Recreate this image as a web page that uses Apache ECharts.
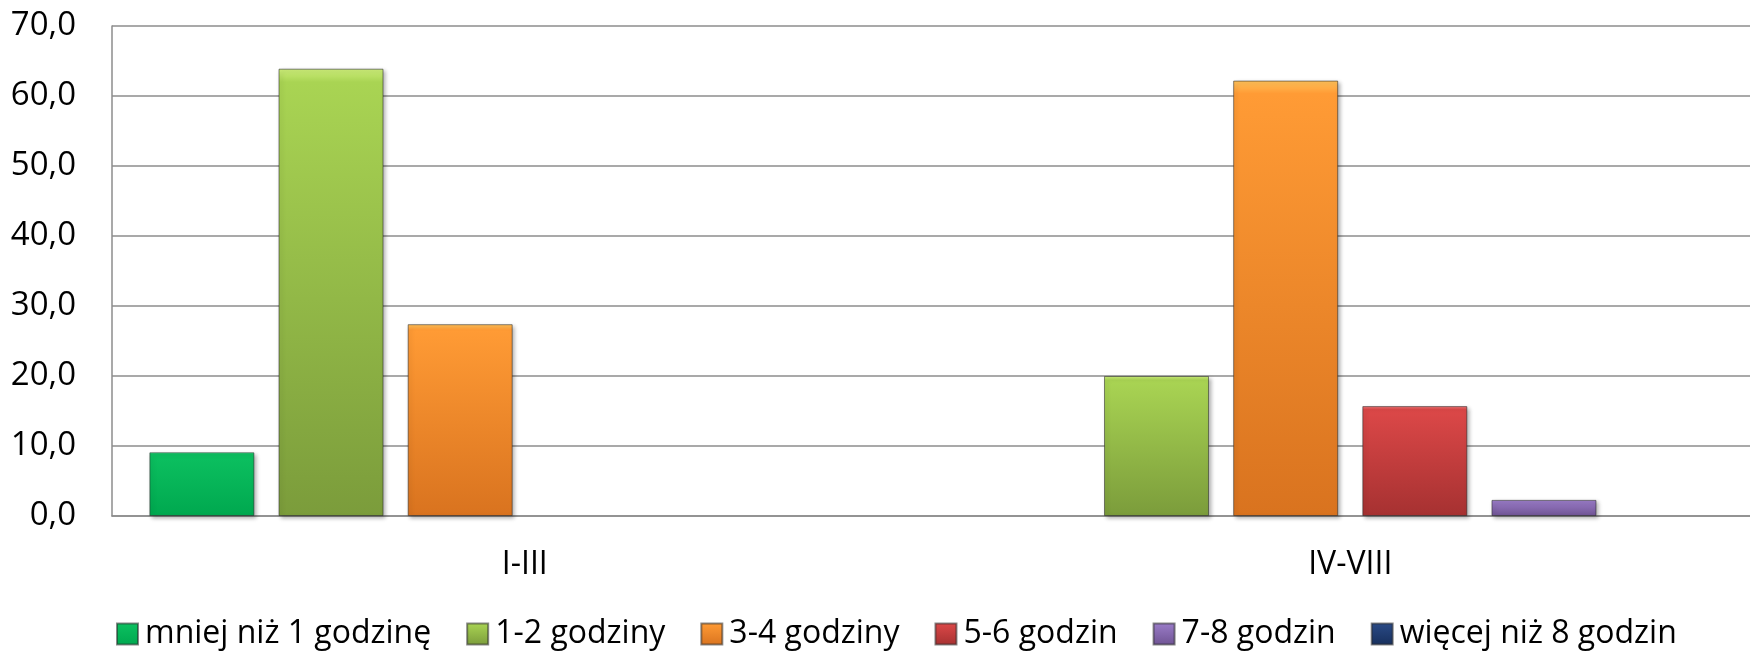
<!DOCTYPE html>
<html>
<head>
<meta charset="utf-8">
<script src="https://cdn.jsdelivr.net/npm/echarts@6/dist/echarts.min.js"></script>
<style>
  html, body { margin: 0; padding: 0; background: #fff; }
  #chart { width: 1750px; height: 652px; }
</style>
</head>
<body>
<div id="chart"></div>
<script>
// groups on the x axis
var categories = ['I-III', 'IV-VIII'];

// share of pupils per time band (%)
var lessThan1h = [9.1, 0];
var h1to2 = [63.9, 20.0];
var h3to4 = [27.4, 62.2];
var h5to6 = [0, 15.7];
var h7to8 = [0, 2.3];
var moreThan8h = [0, 0];

var seriesNames = ['mniej niż 1 godzinę', '1-2 godziny', '3-4 godziny', '5-6 godzin', '7-8 godzin', 'więcej niż 8 godzin'];
var seriesData = [lessThan1h, h1to2, h3to4, h5to6, h7to8, moreThan8h];

// highlight / top / bottom colours of each bar gradient
var palette = [
  ['#45f597', '#0cc060', '#00a84f'],
  ['#cdee7a', '#a9d453', '#7b9c3b'],
  ['#ffc25a', '#ff9b35', '#d9731f'],
  ['#f07a7a', '#dc4848', '#a63131'],
  ['#c2a4ef', '#9a7cc8', '#6f5393'],
  ['#4a6ab0', '#2a4a86', '#172f5c']
];

var fontFamily = '"Open Sans", "Noto Sans", sans-serif';

function barStyle(c) {
  return {
    color: new echarts.graphic.LinearGradient(0, 0, 0, 1, [
      { offset: 0, color: c[0] },
      { offset: 0.03, color: c[1] },
      { offset: 1, color: c[2] }
    ]),
    borderColor: 'rgba(40,40,40,0.55)',
    borderWidth: 1,
    shadowColor: 'rgba(0,0,0,0.3)',
    shadowBlur: 4,
    shadowOffsetX: 2,
    shadowOffsetY: 2
  };
}

var chart = echarts.init(document.getElementById('chart'));

chart.setOption({
  animation: false,
  backgroundColor: '#fff',
  grid: {
    left: 112,
    width: 1651, // plot runs a little past the right edge, as in the original
    top: 26,
    bottom: 136,
    outerBoundsMode: 'none'
  },
  legend: {
    data: seriesNames,
    left: 116,
    top: 616,
    padding: 0,
    itemWidth: 21,
    itemHeight: 21,
    itemGap: 35,
    icon: 'rect',
    textStyle: {
      fontFamily: fontFamily,
      fontSize: 32,
      lineHeight: 36,
      color: '#000',
      padding: [0, 0, 0, 2]
    }
  },
  xAxis: {
    type: 'category',
    data: categories,
    axisLine: { show: true, lineStyle: { color: '#8c8c8c', width: 1.5 } },
    axisTick: { show: false },
    axisLabel: {
      margin: 33,
      fontFamily: fontFamily,
      fontSize: 32,
      color: '#000'
    }
  },
  yAxis: {
    type: 'value',
    min: 0,
    max: 70,
    interval: 10,
    axisLine: { show: true, lineStyle: { color: '#8c8c8c', width: 1.5 } },
    axisTick: { show: false },
    splitLine: { lineStyle: { color: '#8c8c8c', width: 1.5 } },
    axisLabel: {
      margin: 36,
      fontFamily: fontFamily,
      fontSize: 33,
      color: '#000',
      formatter: function (v) {
        return v.toFixed(1).replace('.', ',');
      }
    }
  },
  series: seriesNames.map(function (name, i) {
    return {
      name: name,
      type: 'bar',
      // empty bands are left out so no flat outline is drawn on the axis
      data: seriesData[i].map(function (v) { return v === 0 ? null : v; }),
      barWidth: 105,
      barGap: '23%',
      itemStyle: barStyle(palette[i])
    };
  })
});
</script>
</body>
</html>
